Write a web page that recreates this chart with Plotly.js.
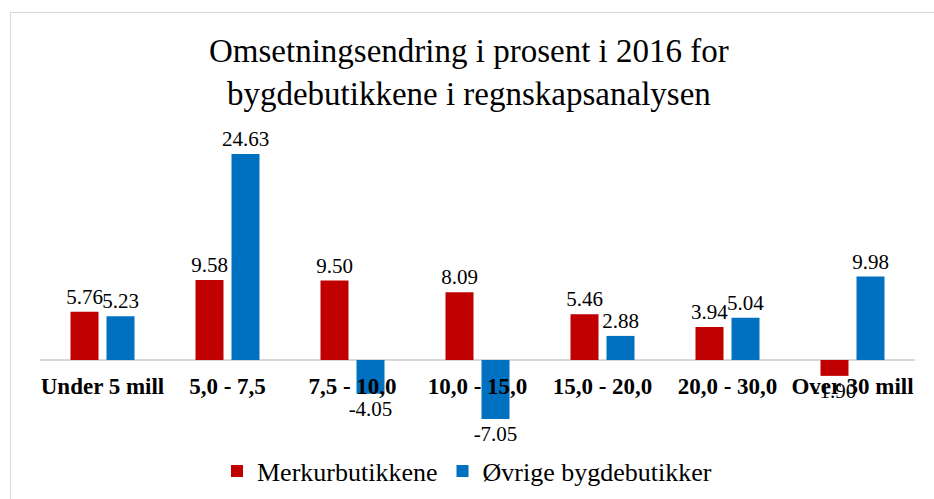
<!DOCTYPE html>
<html>
<head>
<meta charset="utf-8">
<script src="https://cdn.plot.ly/plotly-3.0.1.min.js"></script>
<style>
  html, body { margin: 0; padding: 0; background: #fff; }
  #wrap { position: relative; width: 934px; height: 499px; overflow: hidden; }
  #chart { width: 934px; height: 499px; }
  #frame { position: absolute; left: 10px; top: 12px; width: 940px; height: 500px;
           border: 1.5px solid #d9d9d9; pointer-events: none; box-sizing: border-box; }
</style>
</head>
<body>
<div id="wrap">
  <div id="chart"></div>
  <div id="frame"></div>
</div>
<script>
const categories = ["Under 5 mill", "5,0 - 7,5", "7,5 - 10,0", "10,0 - 15,0", "15,0 - 20,0", "20,0 - 30,0", "Over 30 mill"];
const merkurValues = [5.76, 9.58, 9.50, 8.09, 5.46, 3.94, -1.90];
const ovrigeValues = [5.23, 24.63, -4.05, -7.05, 2.88, 5.04, 9.98];
const seriesNames = ["Merkurbutikkene", "Øvrige bygdebutikker"];
const seriesColors = ["#C00000", "#0070C0"];

const FONT = "Liberation Serif";
const yRange = [-9.57, 27.51];

function barTrace(name, values, color) {
  const tf = { family: FONT, size: 21, color: "#000" };
  return {
    type: "bar",
    name: name,
    x: categories,
    y: values,
    marker: { color: color, line: { width: 0 } },
    text: values.map(v => v.toFixed(2)),
    textposition: "outside",
    textfont: tf,
    outsidetextfont: tf,
    constraintext: "none",
    cliponaxis: false,
    hoverinfo: "x+y+name"
  };
}

const data = [
  barTrace(seriesNames[0], merkurValues, seriesColors[0]),
  barTrace(seriesNames[1], ovrigeValues, seriesColors[1])
];

const layout = {
  width: 934,
  height: 499,
  margin: { l: 40, r: 18.5, t: 130, b: 59 },
  paper_bgcolor: "#fff",
  plot_bgcolor: "#fff",
  font: { family: FONT, color: "#000" },
  barmode: "group",
  bargap: 0.424,
  bargroupgap: 0.222,
  title: {
    text: "Omsetningsendring i prosent i 2016 for<br>bygdebutikkene i regnskapsanalysen",
    font: { family: FONT, size: 33, color: "#000" },
    x: 0.502, xref: "container", xanchor: "center",
    y: 1 - 62 / 499, yref: "container", yanchor: "top"
  },
  xaxis: {
    type: "category",
    anchor: "free",
    position: (0 - yRange[0]) / (yRange[1] - yRange[0]),
    showline: false,
    showgrid: false,
    zeroline: false,
    ticks: "",
    ticklabelstandoff: 10,
    tickfont: { family: FONT, size: 23, color: "#000", weight: "bold" }
  },
  yaxis: {
    range: yRange,
    showticklabels: false,
    showgrid: false,
    zeroline: true,
    zerolinecolor: "#d9d9d9",
    zerolinewidth: 1.5,
    ticks: "",
    fixedrange: true
  },
  showlegend: true,
  legend: {
    orientation: "h",
    x: 0.5, xref: "container", xanchor: "center",
    y: 1 - 471 / 499, yref: "container", yanchor: "middle",
    font: { family: FONT, size: 26, color: "#000" },
    itemwidth: 30,
    traceorder: "normal"
  }
};

Plotly.newPlot("chart", data, layout, { displayModeBar: false, staticPlot: true });
</script>
</body>
</html>
